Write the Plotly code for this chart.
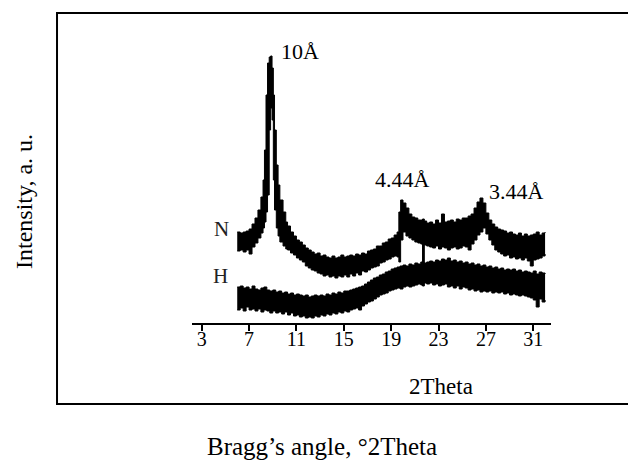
import plotly.graph_objects as go

# ---------------- data (2Theta in degrees, intensity in arbitrary units) ----------------
# Sample N: upper and lower edges of the noisy diffraction trace
n_theta = [6.0, 6.25, 6.5, 6.75, 7.0, 7.25, 7.5, 7.75, 8.0, 8.18, 8.3, 8.43, 8.56, 8.7, 8.82, 8.94,
           9.05, 9.15, 9.3, 9.45, 9.6, 9.87, 10.1, 10.25, 10.5, 10.75, 11.0, 11.25, 11.5, 11.75, 12.0,
           12.25, 12.5, 12.75, 13.0, 13.25, 13.5, 13.75, 14.0, 14.25, 14.5, 14.75, 15.0, 15.25,
           15.5, 15.75, 16.0, 16.25, 16.5, 16.75, 17.0, 17.25, 17.5, 17.75, 18.0, 18.25, 18.5,
           18.75, 19.0, 19.25, 19.5, 19.65, 19.8, 20.0, 20.25, 20.5, 20.75, 21.0, 21.25, 21.5,
           21.65, 21.8, 22.0, 22.25, 22.5, 22.75, 23.0, 23.25, 23.5, 23.75, 24.0, 24.25, 24.5,
           24.75, 25.0, 25.25, 25.5, 25.75, 26.0, 26.25, 26.5, 26.75, 27.0, 27.25, 27.5, 27.75,
           28.0, 28.25, 28.5, 28.75, 29.0, 29.25, 29.5, 29.75, 30.0, 30.25, 30.5, 30.75, 31.0,
           31.25, 31.5, 31.75, 32.0]
n_upper = [91, 90, 91, 92, 94, 99, 105, 113, 126, 143, 173, 228, 260, 266, 267, 255,
           228, 193, 158, 138, 123, 111, 101, 97, 91, 87, 83, 81, 78, 75, 73,
           71, 69, 70, 67, 68, 66, 65, 67, 65, 66, 68, 66, 67,
           68, 67, 69, 68, 70, 69, 72, 73, 74, 77, 77, 80, 81,
           84, 85, 88, 91, 111, 123, 120, 115, 109, 106, 105, 103, 103,
           104, 102, 100, 101, 99, 103, 100, 109, 101, 102, 103, 101, 104,
           103, 105, 105, 107, 109, 115, 121, 125, 120, 110, 103, 99, 96,
           94, 93, 92, 90, 91, 89, 88, 90, 87, 89, 87, 88, 89,
           91, 88, 90, 91]
n_lower = [72, 73, 71, 73, 69, 76, 80, 85, 90, 95, 101, 111, 128, 193, 215, 203,
           143, 113, 95, 87, 81, 77, 74, 73, 70, 68, 65, 63, 61, 57, 55,
           53, 52, 50, 49, 47, 48, 46, 47, 45, 47, 46, 48, 46,
           49, 47, 50, 48, 52, 51, 53, 55, 56, 57, 60, 61, 63,
           64, 66, 67, 66, 61, 83, 91, 87, 85, 83, 81, 80, 79,
           37, 78, 77, 76, 75, 77, 74, 76, 75, 73, 75, 76, 74,
           75, 77, 76, 73, 79, 83, 88, 91, 95, 89, 83, 78, 73,
           71, 69, 67, 68, 65, 66, 64, 65, 63, 65, 62, 57, 63,
           64, 65, 67, 69]

# Sample H
h_theta = [6.0, 6.25, 6.5, 6.75, 7.0, 7.25, 7.5, 7.75, 8.0, 8.25, 8.5, 8.75, 9.0, 9.25, 9.5,
           9.75, 10.0, 10.25, 10.5, 10.75, 11.0, 11.25, 11.5, 11.75, 12.0, 12.25, 12.5, 12.75,
           13.0, 13.25, 13.5, 13.75, 14.0, 14.25, 14.5, 14.75, 15.0, 15.25, 15.5, 15.75, 16.0,
           16.25, 16.5, 16.75, 17.0, 17.25, 17.5, 17.75, 18.0, 18.25, 18.5, 18.75, 19.0, 19.25,
           19.5, 19.75, 20.0, 20.25, 20.5, 20.75, 21.0, 21.25, 21.5, 21.75, 22.0, 22.25, 22.5,
           22.75, 23.0, 23.25, 23.5, 23.75, 24.0, 24.25, 24.5, 24.75, 25.0, 25.25, 25.5, 25.75,
           26.0, 26.25, 26.5, 26.75, 27.0, 27.25, 27.5, 27.75, 28.0, 28.25, 28.5, 28.75, 29.0,
           29.25, 29.5, 29.75, 30.0, 30.25, 30.5, 30.75, 31.0, 31.25, 31.5, 31.75, 32.0]
h_upper = [36, 37, 35, 36, 34, 37, 34, 33, 35, 36, 33, 32, 33, 31, 32,
           30, 31, 29, 30, 28, 29, 28, 27, 28, 26, 27, 28, 27,
           28, 27, 29, 28, 30, 29, 31, 30, 32, 32, 33, 34, 35,
           36, 37, 39, 41, 43, 45, 46, 48, 49, 51, 52, 54, 55,
           56, 57, 58, 57, 59, 58, 60, 59, 61, 60, 61, 62, 61,
           63, 62, 64, 63, 65, 62, 63, 61, 62, 60, 61, 59, 60,
           58, 59, 57, 58, 56, 57, 55, 56, 54, 55, 53, 54, 53,
           54, 52, 53, 51, 52, 51, 50, 52, 49, 51, 50, 49]
h_lower = [13, 15, 12, 16, 13, 14, 12, 14, 11, 13, 12, 10, 12, 10, 11,
           9, 11, 8, 10, 7, 8, 6, 7, 5, 6, 5, 7, 6,
           8, 7, 9, 8, 10, 9, 11, 10, 12, 11, 13, 14, 15,
           13, 17, 19, 21, 22, 24, 26, 28, 29, 30, 32, 33, 34,
           35, 34, 36, 37, 36, 37, 38, 39, 38, 40, 39, 40, 38,
           39, 37, 38, 39, 36, 37, 35, 37, 34, 36, 35, 33, 34,
           32, 33, 31, 32, 31, 32, 30, 31, 30, 31, 29, 30, 28,
           29, 28, 27, 28, 27, 26, 25, 23, 16, 24, 21, 23]

tick_values = [3, 7, 11, 15, 19, 23, 27, 31]
tick_labels = ["3", "7", "11", "15", "19", "23", "27", "31"]

peak_labels = ["10Å", "4.44Å", "3.44Å"]
peak_theta = [11.3, 19.96, 29.55]
peak_intensity = [272, 144, 132]

sample_names = ["N", "H"]
sample_theta = [4.63, 4.55]
sample_intensity = [94, 47]

SERIF = "Liberation Serif, Times New Roman, serif"

fig = go.Figure()
for th, lo, up in [(n_theta, n_lower, n_upper), (h_theta, h_lower, h_upper)]:
    fig.add_trace(go.Scatter(x=th, y=lo, mode="lines", line=dict(color="black", width=1, shape="hv"),
                             showlegend=False, hoverinfo="skip"))
    fig.add_trace(go.Scatter(x=th, y=up, mode="lines", line=dict(color="black", width=1, shape="hv"),
                             fill="tonexty", fillcolor="black", showlegend=False, hoverinfo="skip"))

annotations = []
for t, x, y in zip(peak_labels, peak_theta, peak_intensity):
    annotations.append(dict(x=x, y=y, xref="x", yref="y", text=t, showarrow=False,
                            font=dict(family=SERIF, size=22, color="black"),
                            xanchor="center", yanchor="middle"))
for t, x, y in zip(sample_names, sample_theta, sample_intensity):
    annotations.append(dict(x=x, y=y, xref="x", yref="y", text=t, showarrow=False,
                            font=dict(family=SERIF, size=21, color="#222"),
                            xanchor="center", yanchor="middle"))
annotations.append(dict(x=0.694, y=-0.226, xref="paper", yref="paper", text="2Theta",
                        showarrow=False, font=dict(family=SERIF, size=23, color="black"),
                        xanchor="center", yanchor="middle"))
annotations.append(dict(x=0.362, y=-0.435, xref="paper", yref="paper",
                        text="Bragg’s angle, °2Theta", showarrow=False,
                        font=dict(family=SERIF, size=25, color="black"),
                        xanchor="center", yanchor="middle"))
annotations.append(dict(x=-0.468, y=0.431, xref="paper", yref="paper",
                        text="Intensity, a. u.", textangle=-90, showarrow=False,
                        font=dict(family=SERIF, size=24, color="black"),
                        xanchor="center", yanchor="middle"))

fig.update_layout(
    width=628, height=460,
    margin=dict(l=192, r=77, t=40, b=137),
    paper_bgcolor="white", plot_bgcolor="white",
    xaxis=dict(range=[2.18, 32.5], tickvals=tick_values, ticktext=tick_labels,
               ticks="outside", ticklen=6, tickwidth=1.5, tickcolor="black",
               ticklabelstandoff=-9,
               showline=True, linecolor="black", linewidth=2,
               showgrid=False, zeroline=False,
               tickfont=dict(family=SERIF, size=20, color="black")),
    yaxis=dict(range=[0, 283], visible=False),
    annotations=annotations,
    shapes=[dict(type="rect", xref="paper", yref="paper",
                 x0=-0.376, x1=1.26, y0=-0.286, y1=1.095,
                 line=dict(color="black", width=2))],
)

fig.write_html("out.html", config={"displayModeBar": False},
               post_script="document.body.style.margin='0px';")
